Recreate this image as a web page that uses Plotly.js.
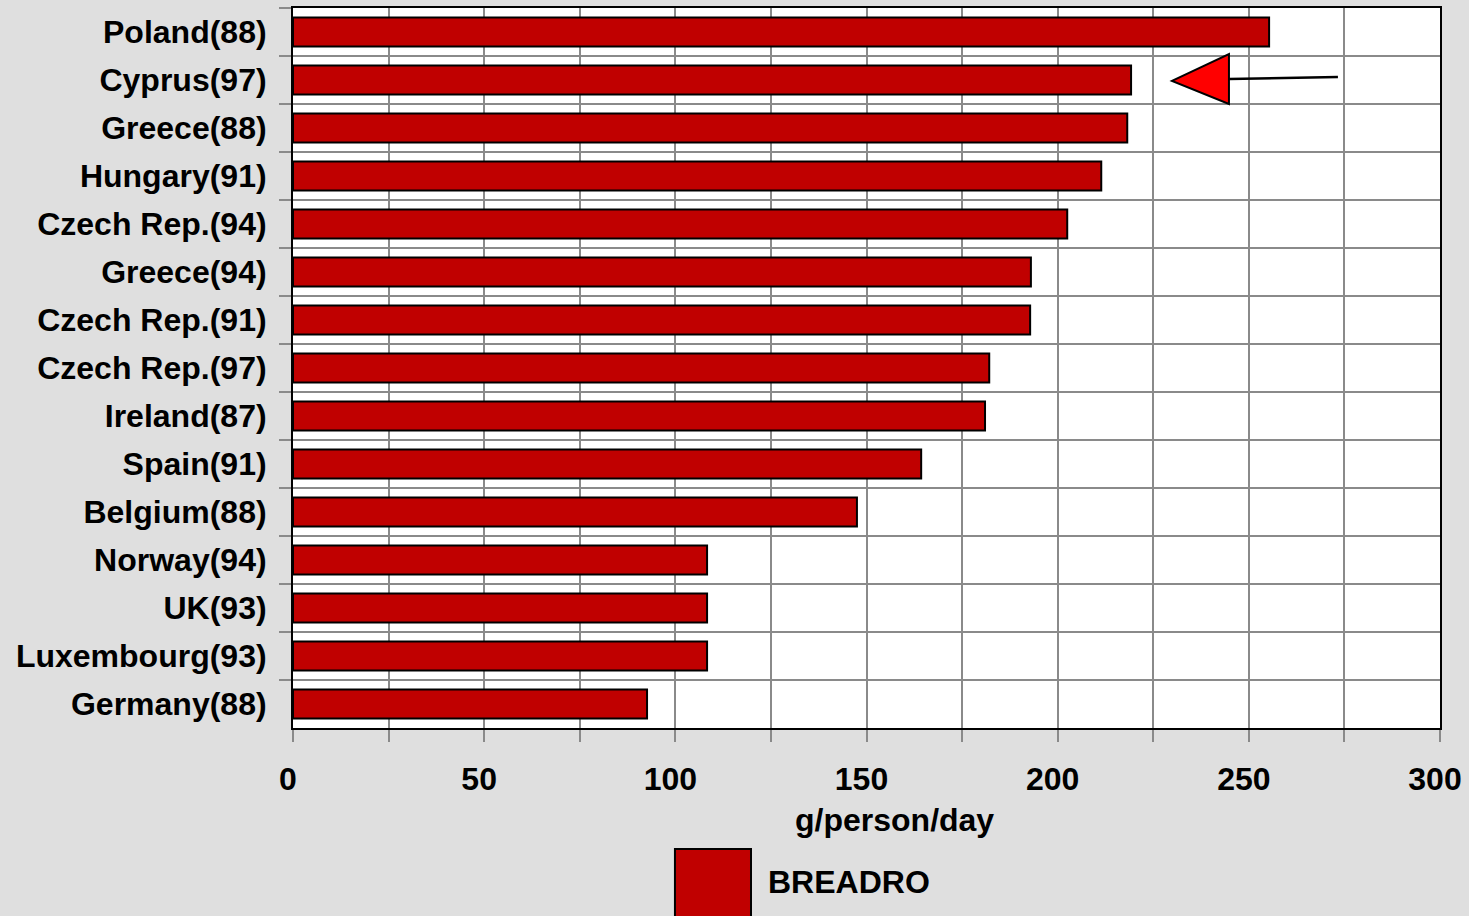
<!DOCTYPE html>
<html>
<head>
<meta charset="utf-8">
<script src="https://cdn.plot.ly/plotly-3.0.1.min.js"></script>
<style>
  html, body { margin: 0; padding: 0; background: #dfdfdf; }
  #chart { width: 1469px; height: 916px; }
</style>
</head>
<body>
<div id="chart"></div>
<script>
const categories = ['Poland(88)', 'Cyprus(97)', 'Greece(88)', 'Hungary(91)', 'Czech Rep.(94)',
  'Greece(94)', 'Czech Rep.(91)', 'Czech Rep.(97)', 'Ireland(87)', 'Spain(91)',
  'Belgium(88)', 'Norway(94)', 'UK(93)', 'Luxembourg(93)', 'Germany(88)'];
const values = [255.3, 219.2, 218.2, 211.4, 202.5, 193.0, 192.8, 182.1, 181.0, 164.3,
  147.5, 108.3, 108.3, 108.3, 92.6];
const seriesName = 'BREADRO';
const xTitle = 'g/person/day';
const xTickVals = [0, 50, 100, 150, 200, 250, 300];

const FONT = '"Liberation Sans", Arial, Helvetica, sans-serif';
const GRID = '#8a8a8a';

const trace = {
  type: 'bar',
  orientation: 'h',
  x: values,
  y: categories,
  name: seriesName,
  showlegend: false,
  marker: { color: '#c00000', line: { color: '#000000', width: 2 } },
  hoverinfo: 'x+y'
};

const layout = {
  width: 1469,
  height: 916,
  paper_bgcolor: '#dfdfdf',
  plot_bgcolor: '#ffffff',
  margin: { l: 293, r: 29, t: 8, b: 188 },
  bargap: 0.4,
  font: { family: FONT, size: 32, color: '#000000', weight: 'bold' },
  xaxis: {
    range: [0, 300],
    tickvals: xTickVals,
    ticktext: xTickVals.map(String),
    ticks: 'outside',
    ticklen: 12,
    tickwidth: 2,
    tickcolor: GRID,
    ticklabelshift: -5,
    ticklabelstandoff: 10,
    tickfont: { family: FONT, size: 32, color: '#000', weight: 'bold' },
    showgrid: true,
    gridcolor: GRID,
    gridwidth: 2,
    minor: { dtick: 25, tick0: 0, showgrid: true, gridcolor: GRID, gridwidth: 2,
             ticks: 'outside', ticklen: 12, tickwidth: 2, tickcolor: GRID },
    showline: true,
    linecolor: '#000000',
    linewidth: 2,
    mirror: true,
    zeroline: false,
    fixedrange: true
  },
  yaxis: {
    type: 'category',
    categoryorder: 'array',
    categoryarray: categories,
    range: [categories.length - 0.5, -0.5],
    tickson: 'boundaries',
    ticks: 'outside',
    ticklen: 12,
    tickwidth: 2,
    tickcolor: GRID,
    ticklabelstandoff: 18,
    tickfont: { family: FONT, size: 32, color: '#000', weight: 'bold' },
    showgrid: true,
    gridcolor: GRID,
    gridwidth: 2,
    showline: true,
    linecolor: '#000000',
    linewidth: 2,
    mirror: true,
    zeroline: false,
    fixedrange: true
  },
  shapes: [
    // arrow pointing at Cyprus
    { type: 'path', xref: 'x', yref: 'y',
      path: 'M 229.9,1.02 L 244.8,0.46 L 244.8,1.5 Z',
      fillcolor: '#ff0000', line: { color: '#000000', width: 2 } },
    { type: 'line', xref: 'x', yref: 'y', x0: 244.8, y0: 0.98, x1: 273.3, y1: 0.94,
      line: { color: '#000000', width: 2.5 } },
    // legend swatch
    { type: 'rect', xref: 'paper', yref: 'paper', x0: 0.333, x1: 0.3993, y0: -0.168, y1: -0.30,
      fillcolor: '#c00000', line: { color: '#000000', width: 2 } }
  ],
  annotations: [
    { text: xTitle, xref: 'paper', yref: 'paper', x: 0.5248, y: -0.1278,
      xanchor: 'center', yanchor: 'middle', showarrow: false,
      font: { family: FONT, size: 32, color: '#000', weight: 'bold' } },
    { text: seriesName, xref: 'paper', yref: 'paper', x: 0.4124, y: -0.2139,
      xanchor: 'left', yanchor: 'middle', showarrow: false,
      font: { family: FONT, size: 32, color: '#000', weight: 'bold' } }
  ]
};

Plotly.newPlot('chart', [trace], layout, { displayModeBar: false, staticPlot: true });
</script>
</body>
</html>
